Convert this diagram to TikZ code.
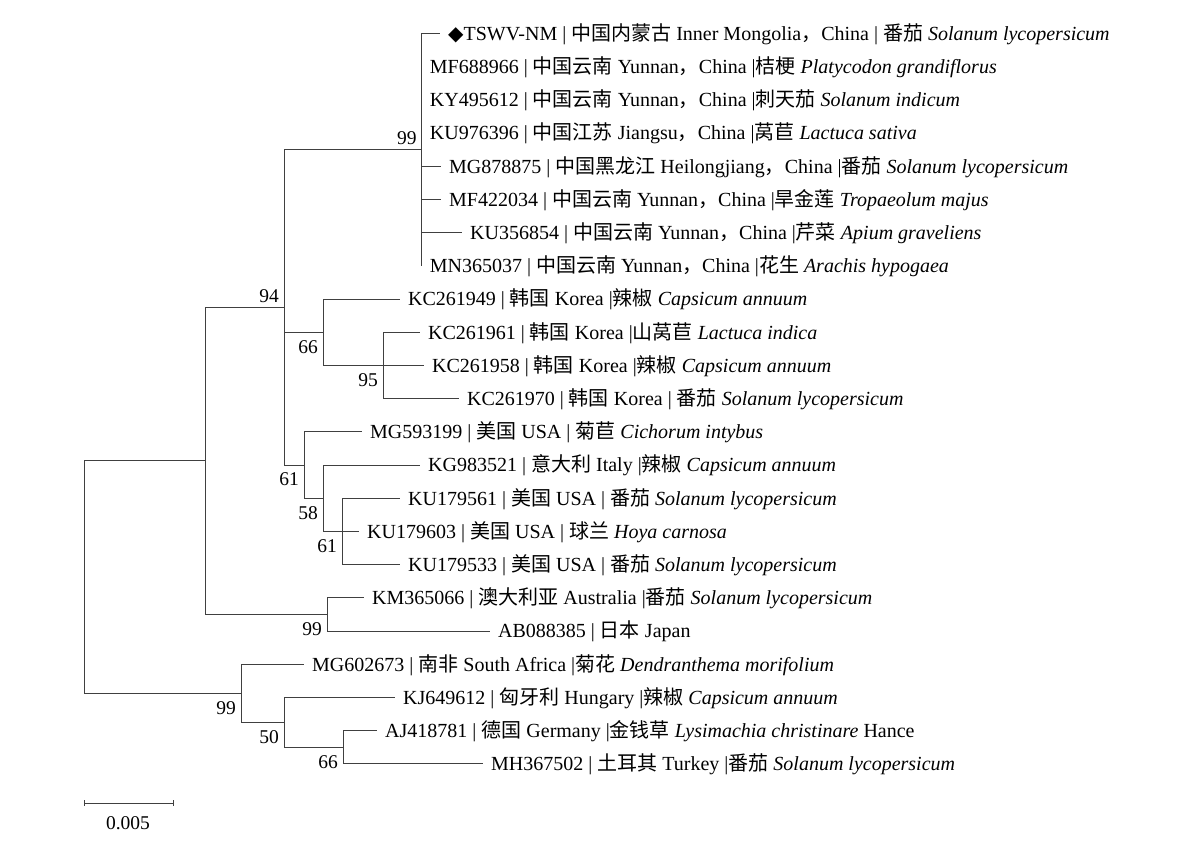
\documentclass[tikz,border=0pt]{standalone}
\usepackage{fontspec}
\setmainfont{Liberation Serif}
\newfontfamily\cjk{Noto Sans CJK SC}
\newfontfamily\dejavu{DejaVu Sans}
\newcommand{\zh}[1]{{\cjk #1}}
\begin{document}
\begin{tikzpicture}[x=1pt,y=-1pt]
	\pgfmathsetmacro{\rowA}{33.5}
	\pgfmathsetmacro{\rowH}{33.2}
	\tikzstyle{branch}=[black!75, line width=1pt]
	\tikzstyle{taxon}=[anchor=west, inner xsep=8pt, inner ysep=0pt, text height=13.5pt, text depth=0pt, font=\fontsize{20pt}{24pt}\selectfont]
	\tikzstyle{boot}=[inner sep=0pt, text height=13.5pt, text depth=0pt, font=\fontsize{19.5pt}{23pt}\selectfont]
	\tikzstyle{up}=[anchor=south east, xshift=-5pt, yshift=5pt]
	\tikzstyle{down}=[anchor=north east, xshift=-5pt, yshift=-7pt]
	
	\useasboundingbox (0,0) rectangle (1200,845);
	
	\coordinate (root) at (84, \rowA+16.375*\rowH);
	\coordinate (nA) at (205, \rowA+12.875*\rowH);
	\coordinate (n94) at (284, \rowA+8.25*\rowH);
	\coordinate (n99a) at (421.7, \rowA+3.5*\rowH);
	\coordinate (n66a) at (323, \rowA+9*\rowH);
	\coordinate (n95) at (383, \rowA+10*\rowH);
	\coordinate (n61a) at (304, \rowA+13*\rowH);
	\coordinate (n58) at (323, \rowA+14*\rowH);
	\coordinate (n61b) at (342, \rowA+15*\rowH);
	\coordinate (n99b) at (327, \rowA+17.5*\rowH);
	\coordinate (n99c) at (241, \rowA+19.875*\rowH);
	\coordinate (n50) at (284, \rowA+20.75*\rowH);
	\coordinate (n66b) at (343, \rowA+21.5*\rowH);
	
	\node[taxon] (TSWV) at (440, \rowA+0*\rowH) {{\dejavu ◆}TSWV-NM | \zh{中国内蒙古} Inner Mongolia\zh{，}China | \zh{番茄} \textit{Solanum lycopersicum}};
	\node[taxon] (MF688966) at (421.7, \rowA+1*\rowH) {MF688966 | \zh{中国云南} Yunnan\zh{，}China |\zh{桔梗} \textit{Platycodon grandiflorus}};
	\node[taxon] (KY495612) at (421.7, \rowA+2*\rowH) {KY495612 | \zh{中国云南} Yunnan\zh{，}China |\zh{刺天茄} \textit{Solanum indicum}};
	\node[taxon] (KU976396) at (421.7, \rowA+3*\rowH) {KU976396 | \zh{中国江苏} Jiangsu\zh{，}China |\zh{莴苣} \textit{Lactuca sativa}};
	\node[taxon] (MG878875) at (441, \rowA+4*\rowH) {MG878875 | \zh{中国黑龙江} Heilongjiang\zh{，}China |\zh{番茄} \textit{Solanum lycopersicum}};
	\node[taxon] (MF422034) at (441, \rowA+5*\rowH) {MF422034 | \zh{中国云南} Yunnan\zh{，}China |\zh{旱金莲} \textit{Tropaeolum majus}};
	\node[taxon] (KU356854) at (462, \rowA+6*\rowH) {KU356854 | \zh{中国云南} Yunnan\zh{，}China |\zh{芹菜} \textit{Apium graveliens}};
	\node[taxon] (MN365037) at (421.7, \rowA+7*\rowH) {MN365037 | \zh{中国云南} Yunnan\zh{，}China |\zh{花生} \textit{Arachis hypogaea}};
	
	\node[taxon] (KC261949) at (400, \rowA+8*\rowH) {KC261949 | \zh{韩国} Korea |\zh{辣椒} \textit{Capsicum annuum}};
	\node[taxon] (KC261961) at (420, \rowA+9*\rowH) {KC261961 | \zh{韩国} Korea |\zh{山莴苣} \textit{Lactuca indica}};
	\node[taxon] (KC261958) at (424, \rowA+10*\rowH) {KC261958 | \zh{韩国} Korea |\zh{辣椒} \textit{Capsicum annuum}};
	\node[taxon] (KC261970) at (459, \rowA+11*\rowH) {KC261970 | \zh{韩国} Korea | \zh{番茄} \textit{Solanum lycopersicum}};
	
	\node[taxon] (MG593199) at (362, \rowA+12*\rowH) {MG593199 | \zh{美国} USA | \zh{菊苣} \textit{Cichorum intybus}};
	\node[taxon] (KG983521) at (420, \rowA+13*\rowH) {KG983521 | \zh{意大利} Italy |\zh{辣椒} \textit{Capsicum annuum}};
	\node[taxon] (KU179561) at (400, \rowA+14*\rowH) {KU179561 | \zh{美国} USA | \zh{番茄} \textit{Solanum lycopersicum}};
	\node[taxon] (KU179603) at (359, \rowA+15*\rowH) {KU179603 | \zh{美国} USA | \zh{球兰} \textit{Hoya carnosa}};
	\node[taxon] (KU179533) at (400, \rowA+16*\rowH) {KU179533 | \zh{美国} USA | \zh{番茄} \textit{Solanum lycopersicum}};
	
	\node[taxon] (KM365066) at (364, \rowA+17*\rowH) {KM365066 | \zh{澳大利亚} Australia |\zh{番茄} \textit{Solanum lycopersicum}};
	\node[taxon] (AB088385) at (490, \rowA+18*\rowH) {AB088385 | \zh{日本} Japan};
	
	\node[taxon] (MG602673) at (304, \rowA+19*\rowH) {MG602673 | \zh{南非} South Africa |\zh{菊花} \textit{Dendranthema morifolium}};
	\node[taxon] (KJ649612) at (395, \rowA+20*\rowH) {KJ649612 | \zh{匈牙利} Hungary |\zh{辣椒} \textit{Capsicum annuum}};
	\node[taxon] (AJ418781) at (377, \rowA+21*\rowH) {AJ418781 | \zh{德国} Germany |\zh{金钱草} \textit{Lysimachia christinare} Hance};
	\node[taxon] (MH367502) at (483, \rowA+22*\rowH) {MH367502 | \zh{土耳其} Turkey |\zh{番茄} \textit{Solanum lycopersicum}};
	
	\draw[branch] (root) |- (nA);
	\draw[branch] (root) |- (n99c);
	\draw[branch] (nA) |- (n94);
	\draw[branch] (nA) |- (n99b);
	\draw[branch] (n94) |- (n99a);
	\draw[branch] (n94) |- (n66a);
	\draw[branch] (n94) |- (n61a);
	
	\draw[branch] (n99a) |- (TSWV.west);
	\draw[branch] (n99a) |- (MF688966.west);
	\draw[branch] (n99a) |- (KY495612.west);
	\draw[branch] (n99a) |- (KU976396.west);
	\draw[branch] (n99a) |- (MG878875.west);
	\draw[branch] (n99a) |- (MF422034.west);
	\draw[branch] (n99a) |- (KU356854.west);
	\draw[branch] (n99a) |- (MN365037.west);
	
	\draw[branch] (n66a) |- (KC261949.west);
	\draw[branch] (n66a) |- (n95);
	\draw[branch] (n95) |- (KC261961.west);
	\draw[branch] (n95) |- (KC261958.west);
	\draw[branch] (n95) |- (KC261970.west);
	
	\draw[branch] (n61a) |- (MG593199.west);
	\draw[branch] (n61a) |- (n58);
	\draw[branch] (n58) |- (KG983521.west);
	\draw[branch] (n58) |- (n61b);
	\draw[branch] (n61b) |- (KU179561.west);
	\draw[branch] (n61b) |- (KU179603.west);
	\draw[branch] (n61b) |- (KU179533.west);
	
	\draw[branch] (n99b) |- (KM365066.west);
	\draw[branch] (n99b) |- (AB088385.west);
	
	\draw[branch] (n99c) |- (MG602673.west);
	\draw[branch] (n99c) |- (n50);
	\draw[branch] (n50) |- (KJ649612.west);
	\draw[branch] (n50) |- (n66b);
	\draw[branch] (n66b) |- (AJ418781.west);
	\draw[branch] (n66b) |- (MH367502.west);
	
	\node[boot, up] at (n99a) {99};
	\node[boot, up] at (n94) {94};
	\node[boot, down] at (n66a) {66};
	\node[boot, down] at (n95) {95};
	\node[boot, down] at (n61a) {61};
	\node[boot, down] at (n58) {58};
	\node[boot, down] at (n61b) {61};
	\node[boot, down] at (n99b) {99};
	\node[boot, down] at (n99c) {99};
	\node[boot, down] at (n50) {50};
	\node[boot, down] at (n66b) {66};
	
	\coordinate (barL) at (84, 803);
	\coordinate (barR) at (173, 803);
	\draw[branch] (barL) -- (barR);
	\draw[branch] ([yshift=3pt]barL) -- ([yshift=-3pt]barL);
	\draw[branch] ([yshift=3pt]barR) -- ([yshift=-3pt]barR);
	\node[boot] (barText) at (128, 823) {0.005};
\end{tikzpicture}
\end{document}
